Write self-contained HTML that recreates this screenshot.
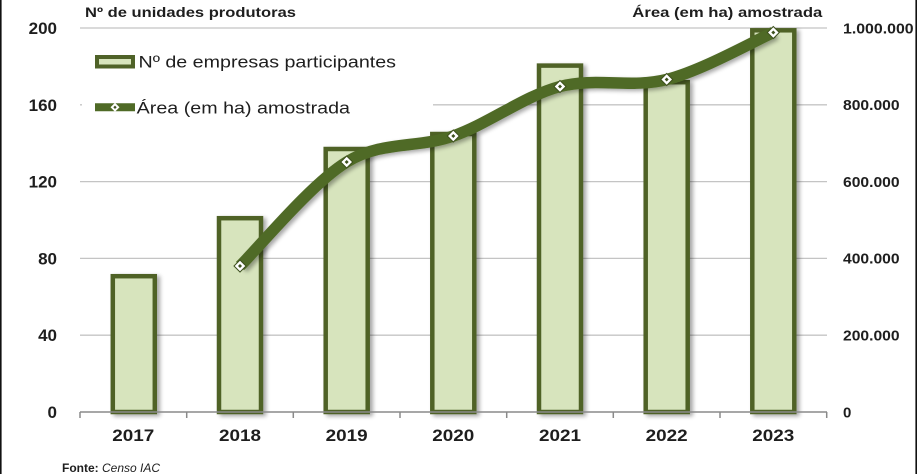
<!DOCTYPE html>
<html><head><meta charset="utf-8">
<style>
html,body{margin:0;padding:0;background:#fff;}
svg{display:block;}
text{font-family:"Liberation Sans",sans-serif;fill:#1e1e1e;}
</style></head>
<body>
<svg width="918" height="474" viewBox="0 0 918 474" xmlns="http://www.w3.org/2000/svg">
<defs>
<filter id="sh" x="-20%" y="-20%" width="150%" height="150%">
<feGaussianBlur in="SourceAlpha" stdDeviation="2"/>
<feOffset dx="3" dy="2" result="o"/>
<feComponentTransfer><feFuncA type="linear" slope="0.35"/></feComponentTransfer>
<feMerge><feMergeNode/><feMergeNode in="SourceGraphic"/></feMerge>
</filter>
</defs>
<rect x="0" y="0" width="918" height="474" fill="#fff"/>
<line x1="0.8" y1="0" x2="0.8" y2="474" stroke="#111" stroke-width="1.6"/>
<line x1="916.2" y1="0" x2="916.2" y2="474" stroke="#111" stroke-width="1.6"/>

<!-- gridlines -->
<g stroke="#c4c4c4" stroke-width="1.3">
<line x1="80" y1="28" x2="827" y2="28"/>
<line x1="80" y1="104.8" x2="827" y2="104.8"/>
<line x1="80" y1="181.6" x2="827" y2="181.6"/>
<line x1="80" y1="258.4" x2="827" y2="258.4"/>
<line x1="80" y1="335.2" x2="827" y2="335.2"/>
</g>
<!-- legend background -->
<rect x="82" y="38" width="351" height="90" fill="#fff"/>

<!-- bars -->
<g filter="url(#sh)" fill="#d7e4bd" stroke="#4f6228" stroke-width="4.5">
<rect x="112.8" y="276.2" width="42" height="135.8"/>
<rect x="219" y="218.2" width="42" height="193.8"/>
<rect x="325.7" y="149" width="42" height="263"/>
<rect x="432.3" y="134" width="42" height="278"/>
<rect x="539" y="65.6" width="42" height="346.4"/>
<rect x="645.7" y="82.2" width="42" height="329.8"/>
<rect x="752.3" y="30.3" width="42" height="381.7"/>
</g>

<!-- axis -->
<g stroke="#8a8a8a" stroke-width="1.5">
<line x1="80" y1="412" x2="827" y2="412"/>
<line x1="80" y1="412" x2="80" y2="418"/>
<line x1="186.7" y1="412" x2="186.7" y2="418"/>
<line x1="293.3" y1="412" x2="293.3" y2="418"/>
<line x1="400" y1="412" x2="400" y2="418"/>
<line x1="506.7" y1="412" x2="506.7" y2="418"/>
<line x1="613.3" y1="412" x2="613.3" y2="418"/>
<line x1="720" y1="412" x2="720" y2="418"/>
<line x1="826.7" y1="412" x2="826.7" y2="418"/>
</g>

<!-- line series -->
<path filter="url(#sh)" d="M240,266 C257.8,248.7 311.1,183.7 346.7,162 C382.2,140.3 417.8,148.6 453.3,136 C488.9,123.4 524.4,95.9 560,86.5 C595.6,77.1 631.1,88.5 666.7,79.5 C702.2,70.5 755.5,40.3 773.3,32.5" fill="none" stroke="#4f6a26" stroke-width="11.5" stroke-linecap="butt"/>
<g>
<g transform="translate(240,266)"><polygon points="0,-6 6,0 0,6 -6,0" fill="#fff" stroke="#3d501d" stroke-width="1"/><polygon points="0,-2 2,0 0,2 -2,0" fill="#3d501d"/></g>
<g transform="translate(346.7,162)"><polygon points="0,-6 6,0 0,6 -6,0" fill="#fff" stroke="#3d501d" stroke-width="1"/><polygon points="0,-2 2,0 0,2 -2,0" fill="#3d501d"/></g>
<g transform="translate(453.3,136)"><polygon points="0,-6 6,0 0,6 -6,0" fill="#fff" stroke="#3d501d" stroke-width="1"/><polygon points="0,-2 2,0 0,2 -2,0" fill="#3d501d"/></g>
<g transform="translate(560,86.5)"><polygon points="0,-6 6,0 0,6 -6,0" fill="#fff" stroke="#3d501d" stroke-width="1"/><polygon points="0,-2 2,0 0,2 -2,0" fill="#3d501d"/></g>
<g transform="translate(666.7,79.5)"><polygon points="0,-6 6,0 0,6 -6,0" fill="#fff" stroke="#3d501d" stroke-width="1"/><polygon points="0,-2 2,0 0,2 -2,0" fill="#3d501d"/></g>
<g transform="translate(773.3,32.5)"><polygon points="0,-6 6,0 0,6 -6,0" fill="#fff" stroke="#3d501d" stroke-width="1"/><polygon points="0,-2 2,0 0,2 -2,0" fill="#3d501d"/></g>
</g>

<!-- legend -->
<rect x="97" y="57" width="36" height="9.5" fill="#d7e4bd" stroke="#4f6228" stroke-width="4"/>
<text x="138.5" y="67.5" font-size="17" textLength="257.5" lengthAdjust="spacingAndGlyphs">Nº de empresas participantes</text>
<line x1="95" y1="107.3" x2="135" y2="107.3" stroke="#4f6a26" stroke-width="8"/>
<g transform="translate(115,107.3)"><polygon points="0,-4.5 4.5,0 0,4.5 -4.5,0" fill="#fff"/><polygon points="0,-1.7 1.7,0 0,1.7 -1.7,0" fill="#3d501d"/></g>
<text x="136.7" y="113.5" font-size="17" textLength="213.3" lengthAdjust="spacingAndGlyphs">Área (em ha) amostrada</text>

<!-- titles -->
<text x="85" y="17" font-size="14" font-weight="bold" textLength="211" lengthAdjust="spacingAndGlyphs">Nº de unidades produtoras</text>
<text x="632.3" y="17" font-size="14" font-weight="bold" textLength="190" lengthAdjust="spacingAndGlyphs">Área (em ha) amostrada</text>

<!-- left axis labels -->
<g font-size="17" font-weight="bold" text-anchor="end">
<text x="57" y="34">200</text>
<text x="57" y="110.8">160</text>
<text x="57" y="187.6">120</text>
<text x="57" y="264.4">80</text>
<text x="57" y="341.2">40</text>
<text x="57" y="418">0</text>
</g>

<!-- right axis labels -->
<g font-size="15" font-weight="bold">
<text x="843" y="33.3" textLength="70.6" lengthAdjust="spacingAndGlyphs">1.000.000</text>
<text x="843" y="110.1" textLength="56.6" lengthAdjust="spacingAndGlyphs">800.000</text>
<text x="843" y="186.9" textLength="56.6" lengthAdjust="spacingAndGlyphs">600.000</text>
<text x="843" y="263.7" textLength="56.6" lengthAdjust="spacingAndGlyphs">400.000</text>
<text x="843" y="340.5" textLength="56.6" lengthAdjust="spacingAndGlyphs">200.000</text>
<text x="843" y="417.3">0</text>
</g>

<!-- x labels -->
<g font-size="17" font-weight="bold" text-anchor="middle">
<text x="133.3" y="441" textLength="42" lengthAdjust="spacingAndGlyphs">2017</text>
<text x="240" y="441" textLength="42" lengthAdjust="spacingAndGlyphs">2018</text>
<text x="346.7" y="441" textLength="42" lengthAdjust="spacingAndGlyphs">2019</text>
<text x="453.3" y="441" textLength="42" lengthAdjust="spacingAndGlyphs">2020</text>
<text x="560" y="441" textLength="42" lengthAdjust="spacingAndGlyphs">2021</text>
<text x="666.7" y="441" textLength="42" lengthAdjust="spacingAndGlyphs">2022</text>
<text x="773.3" y="441" textLength="42" lengthAdjust="spacingAndGlyphs">2023</text>
</g>

<!-- source -->
<text x="62" y="472" font-size="12"><tspan font-weight="bold">Fonte: </tspan><tspan font-style="italic">Censo IAC</tspan></text>
</svg>
</body></html>
